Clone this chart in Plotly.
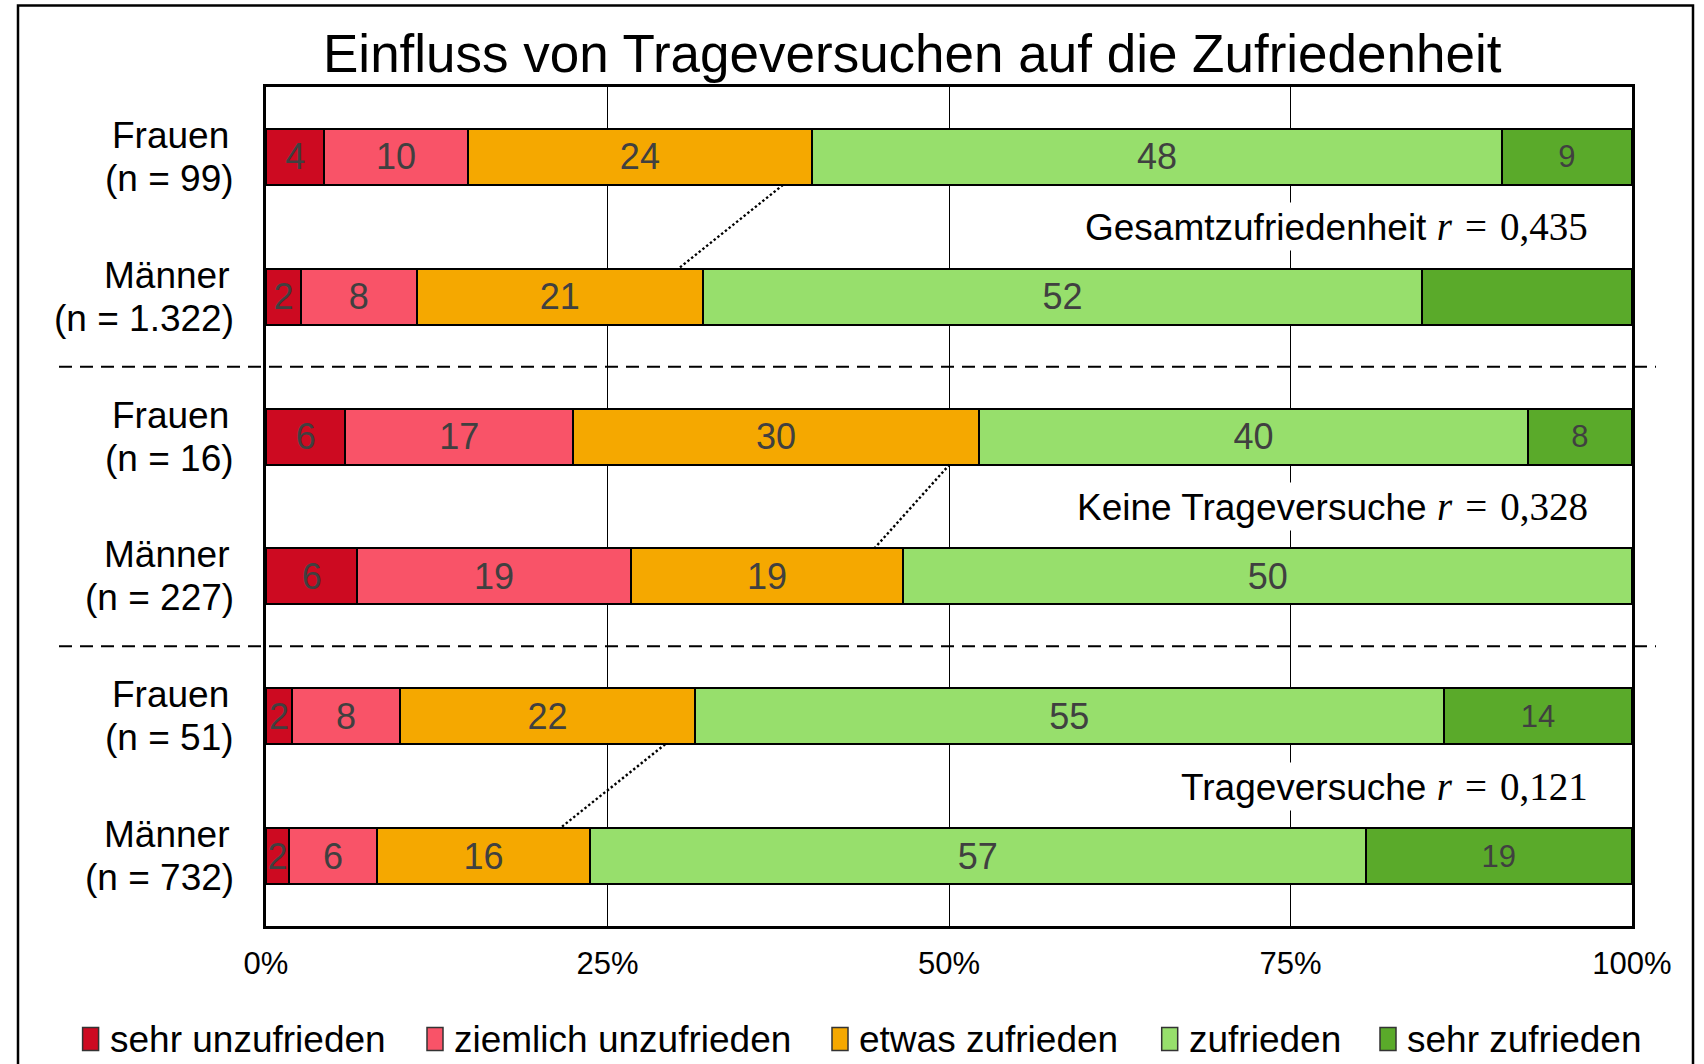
import plotly.graph_objects as go

# ---------------- data ----------------
groups = ["Frauen", "Männer", "Frauen", "Männer", "Frauen", "Männer"]
n_labels = ["(n = 99)", "(n = 1.322)", "(n = 16)", "(n = 227)", "(n = 51)", "(n = 732)"]
levels = ["sehr unzufrieden", "ziemlich unzufrieden", "etwas zufrieden", "zufrieden", "sehr zufrieden"]
colors = ["#CD0A21", "#F95368", "#F5A800", "#97DF6C", "#5AAA2A"]

# segment widths (percent of each bar)
sehr_unzufrieden     = [4.28, 2.55, 5.81, 6.69, 1.91, 1.67]
ziemlich_unzufrieden = [10.48, 8.49, 16.66, 20.00, 7.91, 6.46]
etwas_zufrieden      = [25.22, 20.94, 29.72, 19.97, 21.56, 15.58]
zufrieden            = [50.49, 52.65, 40.19, 53.34, 54.86, 56.79]
sehr_zufrieden       = [9.53, 15.37, 7.62, 0.0, 13.76, 19.50]

# printed value labels
lab_sehr_unzufrieden     = ["4", "2", "6", "6", "2", "2"]
lab_ziemlich_unzufrieden = ["10", "8", "17", "19", "8", "6"]
lab_etwas_zufrieden      = ["24", "21", "30", "19", "22", "16"]
lab_zufrieden            = ["48", "52", "40", "50", "55", "57"]
lab_sehr_zufrieden       = ["9", "", "8", "", "14", "19"]

# correlation annotations
corr_labels = ["Gesamtzufriedenheit", "Keine Trageversuche", "Trageversuche"]
corr_values = ["0,435", "0,328", "0,121"]

# dotted connectors (percent on x): Frauen bar -> Männer bar
conn_from = [37.85, 50.04, 29.22]
conn_to = [30.18, 44.53, 21.54]

tick_vals = [0, 25, 50, 75, 100]
tick_text = ["0%", "25%", "50%", "75%", "100%"]

# ---------------- layout helpers ----------------
W, H = 1704, 1064
L, R, T, B = 266, 1632, 87, 926
def px(x):
    return (x - L) / (R - L)
def py(y):
    return (B - y) / (B - T)

FONT = "Arial, 'Liberation Sans', sans-serif"

cats = [g + " " + n for g, n in zip(groups, n_labels)]
series = [sehr_unzufrieden, ziemlich_unzufrieden, etwas_zufrieden, zufrieden, sehr_zufrieden]
labels = [lab_sehr_unzufrieden, lab_ziemlich_unzufrieden, lab_etwas_zufrieden, lab_zufrieden, lab_sehr_zufrieden]
label_sizes = [36, 36, 36, 36, 31]

fig = go.Figure()
for name, vals, labs, col, fs in zip(levels, series, labels, colors, label_sizes):
    fig.add_trace(go.Bar(
        name=name, y=cats, x=vals, orientation="h", width=0.4,
        marker=dict(color=col, line=dict(color="black", width=2)),
        text=labs, textposition="inside", insidetextanchor="middle",
        textangle=0, constraintext="none",
        textfont=dict(family=FONT, size=fs, color="#404040"),
        showlegend=False, hoverinfo="skip",
    ))

shapes = []
# outer frame
shapes.append(dict(type="rect", xref="paper", yref="paper",
                   x0=px(18), x1=px(1693), y0=py(1090), y1=py(5.5),
                   line=dict(color="black", width=2.5), fillcolor="rgba(0,0,0,0)", layer="above"))
# dashed group separators
for ysep in [1.5, 3.5]:
    shapes.append(dict(type="line", xref="paper", yref="y",
                       x0=px(59), x1=px(1656), y0=ysep, y1=ysep,
                       line=dict(color="black", width=2, dash="13px,8px"), layer="above"))
# dotted connectors
for k in range(3):
    i = 2 * k
    shapes.append(dict(type="line", xref="x", yref="y",
                       x0=conn_from[k], y0=i + 0.2, x1=conn_to[k], y1=i + 1 - 0.2,
                       line=dict(color="black", width=2.4, dash="2.4px,2.4px"), layer="above"))

annotations = []
# title
annotations.append(dict(text="Einfluss von Trageversuchen auf die Zufriedenheit",
                        xref="paper", yref="paper", x=px(912.5), y=py(54),
                        xanchor="center", yanchor="middle", showarrow=False,
                        font=dict(family=FONT, size=53, color="black")))
# category labels (two lines each)
for i, (g, n) in enumerate(zip(groups, n_labels)):
    annotations.append(dict(text=g, xref="paper", yref="y", x=px(231), y=i,
                            xanchor="right", yanchor="middle", yshift=21.5, showarrow=False,
                            font=dict(family=FONT, size=37, color="black")))
    annotations.append(dict(text=n, xref="paper", yref="y", x=px(236), y=i,
                            xanchor="right", yanchor="middle", yshift=-21.5, showarrow=False,
                            font=dict(family=FONT, size=37, color="black")))
# correlation annotations
for k, (lab, val) in enumerate(zip(corr_labels, corr_values)):
    txt = (lab + " <span style=\"font-family:'Liberation Serif', serif; font-size:39px\">"
           "<i>r</i>\u200a = \u200a" + val + "</span>")
    annotations.append(dict(text=txt, xref="paper", yref="y", x=px(1591), y=2 * k + 0.5,
                            xanchor="right", yanchor="middle", showarrow=False,
                            bgcolor="white", borderpad=2,
                            font=dict(family=FONT, size=37, color="black")))
# custom legend
leg_sq = [82.6, 427, 832, 1161.7, 1380]
leg_y = 1039
for lx, name, col in zip(leg_sq, levels, colors):
    shapes.append(dict(type="rect", xref="paper", yref="paper",
                       x0=px(lx), x1=px(lx + 16), y0=py(leg_y + 11.5), y1=py(leg_y - 11.5),
                       fillcolor=col, line=dict(color="#333333", width=1.5), layer="above"))
    annotations.append(dict(text=name, xref="paper", yref="paper", x=px(lx + 25), y=py(leg_y),
                            xanchor="left", yanchor="middle", showarrow=False,
                            font=dict(family=FONT, size=37, color="black")))

fig.update_layout(
    width=W, height=H,
    margin=dict(l=L, r=W - R, t=T, b=H - B, pad=0),
    barmode="stack", bargap=0.6,
    paper_bgcolor="white", plot_bgcolor="white",
    font=dict(family=FONT, color="black"),
    shapes=shapes, annotations=annotations,
    showlegend=False,
)
fig.update_xaxes(range=[0, 100], tickvals=tick_vals, ticktext=tick_text,
                 showgrid=True, gridcolor="black", gridwidth=1.3, zeroline=False,
                 showline=True, mirror=True, linecolor="black", linewidth=2.5,
                 ticks="", ticklabelstandoff=8,
                 tickfont=dict(family=FONT, size=31, color="black"),
                 fixedrange=True)
fig.update_yaxes(type="category", categoryarray=cats, range=[5.5, -0.5],
                 showgrid=False, zeroline=False, showticklabels=False,
                 showline=True, mirror=True, linecolor="black", linewidth=2.5,
                 ticks="", fixedrange=True)

fig.write_html("out.html", config={"displayModeBar": False},
               post_script="document.body.style.margin='0';document.body.style.overflow='hidden';")
